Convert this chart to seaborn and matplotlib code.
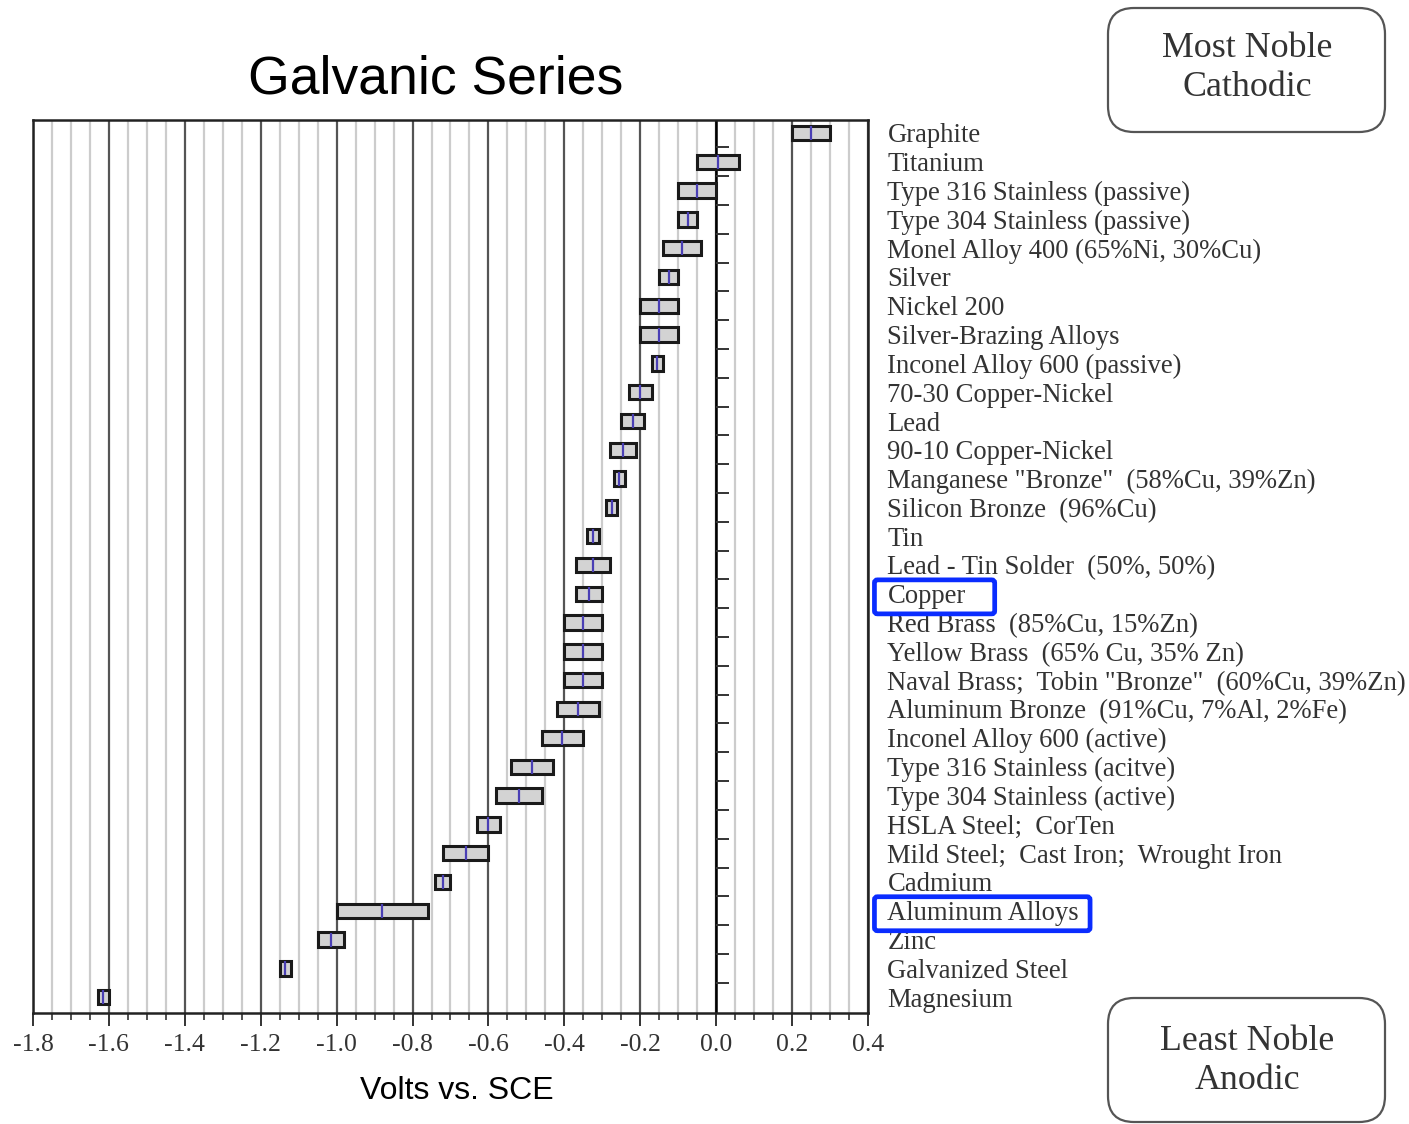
import numpy as np
import pandas as pd
import matplotlib
matplotlib.use("Agg")
import matplotlib.pyplot as plt
from matplotlib.patches import FancyBboxPatch
from matplotlib.ticker import MultipleLocator
import seaborn as sns

# Galvanic series in flowing seawater: potential range of each metal (V vs. SCE)
metals = [
    "Graphite",
    "Titanium",
    "Type 316 Stainless (passive)",
    "Type 304 Stainless (passive)",
    "Monel Alloy 400 (65%Ni, 30%Cu)",
    "Silver",
    "Nickel 200",
    "Silver-Brazing Alloys",
    "Inconel Alloy 600 (passive)",
    "70-30 Copper-Nickel",
    "Lead",
    "90-10 Copper-Nickel",
    'Manganese "Bronze"  (58%Cu, 39%Zn)',
    "Silicon Bronze  (96%Cu)",
    "Tin",
    "Lead - Tin Solder  (50%, 50%)",
    "Copper",
    "Red Brass  (85%Cu, 15%Zn)",
    "Yellow Brass  (65% Cu, 35% Zn)",
    'Naval Brass;  Tobin "Bronze"  (60%Cu, 39%Zn)',
    "Aluminum Bronze  (91%Cu, 7%Al, 2%Fe)",
    "Inconel Alloy 600 (active)",
    "Type 316 Stainless (acitve)",
    "Type 304 Stainless (active)",
    "HSLA Steel;  CorTen",
    "Mild Steel;  Cast Iron;  Wrought Iron",
    "Cadmium",
    "Aluminum Alloys",
    "Zinc",
    "Galvanized Steel",
    "Magnesium",
]
low = [0.20, -0.05, -0.10, -0.10, -0.14, -0.15, -0.20, -0.20, -0.17, -0.23,
       -0.25, -0.28, -0.27, -0.29, -0.34, -0.37, -0.37, -0.40, -0.40, -0.40,
       -0.42, -0.46, -0.54, -0.58, -0.63, -0.72, -0.74, -1.00, -1.05, -1.15,
       -1.63]
high = [0.30, 0.06, 0.00, -0.05, -0.04, -0.10, -0.10, -0.10, -0.14, -0.17,
        -0.19, -0.21, -0.24, -0.26, -0.31, -0.28, -0.30, -0.30, -0.30, -0.30,
        -0.31, -0.35, -0.43, -0.46, -0.57, -0.60, -0.70, -0.76, -0.98, -1.12,
        -1.60]
highlighted = ["Copper", "Aluminum Alloys"]

df = pd.DataFrame({"metal": metals, "low": low, "high": high})
df["pos"] = np.arange(len(df))
df["mid"] = (df["low"] + df["high"]) / 2

sns.set_theme(style="white")
serif = ["Liberation Serif", "DejaVu Serif"]
sans = ["Liberation Sans", "DejaVu Sans"]

fig = plt.figure(figsize=(14.09, 11.24), dpi=100)
ax = fig.add_axes([33 / 1409, 1 - 1013 / 1124, 835 / 1409, 893 / 1124])

# grid: light lines every 0.05 V, darker every 0.2 V
ax.set_xlim(-1.8, 0.4)
ax.set_ylim(len(df) - 0.45, -0.45)
ax.xaxis.set_major_locator(MultipleLocator(0.2))
ax.xaxis.set_minor_locator(MultipleLocator(0.05))
ax.grid(which="minor", axis="x", color="#cccccc", lw=1.6, zorder=0)
ax.grid(which="major", axis="x", color="#555555", lw=1.6, zorder=0)
ax.set_axisbelow(True)

# zero line with row separator ticks
ax.axvline(0, color="black", lw=1.8, zorder=1)
ax.hlines(np.arange(len(df) - 1) + 0.5, 0, 0.035, color="#333333", lw=1.4, zorder=1)

# potential range bars
ax.barh(df["pos"], df["high"] - df["low"], left=df["low"], height=0.5,
        color="#d3d3d3", edgecolor="#1a1a1a", linewidth=2.2, zorder=3)

# mean potential marks
sns.scatterplot(data=df, x="mid", y="pos", marker="|", s=100, color="#4a3fb5",
                linewidth=1.6, ax=ax, zorder=4, legend=False)

ax.set_xlabel("")
ax.set_ylabel("")
xt = np.round(np.arange(-1.8, 0.41, 0.2), 1) + 0.0
ax.set_xticks(xt)
ax.set_xticklabels([f"{v:.1f}".replace("-0.0", "0.0") for v in xt],
                   fontfamily=serif, fontsize=18.5, color="#333333")
ax.tick_params(axis="x", which="major", direction="out", length=9, width=1.4,
               color="#333333", pad=6, bottom=True)
ax.tick_params(axis="x", which="minor", direction="out", length=5, width=1.2,
               color="#333333", bottom=True)

ax.yaxis.tick_right()
ax.set_yticks(df["pos"])
ax.set_yticklabels(df["metal"], fontfamily=serif, fontsize=19.2, color="#333333")
ax.tick_params(axis="y", length=0, pad=14)

for side in ["left", "right", "top", "bottom"]:
    ax.spines[side].set_visible(True)
    ax.spines[side].set_color("#222222")
    ax.spines[side].set_linewidth(1.8)

fig.text(436 / 1409, 1 - 79 / 1124, "Galvanic Series", fontfamily=sans,
         fontsize=38.5, ha="center", va="center", color="black")
fig.text(457 / 1409, 1 - 1091 / 1124, "Volts vs. SCE", fontfamily=sans,
         fontsize=23, ha="center", va="center", color="black")

# end-of-series callout boxes
for (y0, y1, ty, txt) in [(8, 132, 68, "Most Noble\nCathodic"),
                          (998, 1122, 1061, "Least Noble\nAnodic")]:
    r = 26
    box = FancyBboxPatch((1108 + r, 1124 - y1 + r), 277 - 2 * r, (y1 - y0) - 2 * r,
                         boxstyle=f"round,pad={r}", transform=None,
                         facecolor="white", edgecolor="#555555", lw=1.6)
    fig.patches.append(box)
    fig.text(1247 / 1409, 1 - ty / 1124, txt, fontfamily=serif,
             fontsize=25.8, ha="center", va="center", color="#333333",
             linespacing=1.23)

# blue frames around highlighted metals
fig.canvas.draw()
renderer = fig.canvas.get_renderer()
for lab in ax.get_yticklabels():
    if lab.get_text() in highlighted:
        bb = lab.get_window_extent(renderer)
        extra = 29 if lab.get_text() == "Copper" else 11
        x0 = bb.x0 - 13
        w = bb.width + 13 + extra
        yc = (bb.y0 + bb.y1) / 2
        fig.patches.append(FancyBboxPatch((x0, yc - 17), w, 34,
                                          boxstyle="round,pad=0,rounding_size=3",
                                          transform=None, facecolor="none",
                                          edgecolor="#0a2cff", lw=3.4))

fig.savefig("out.png", dpi=100)
